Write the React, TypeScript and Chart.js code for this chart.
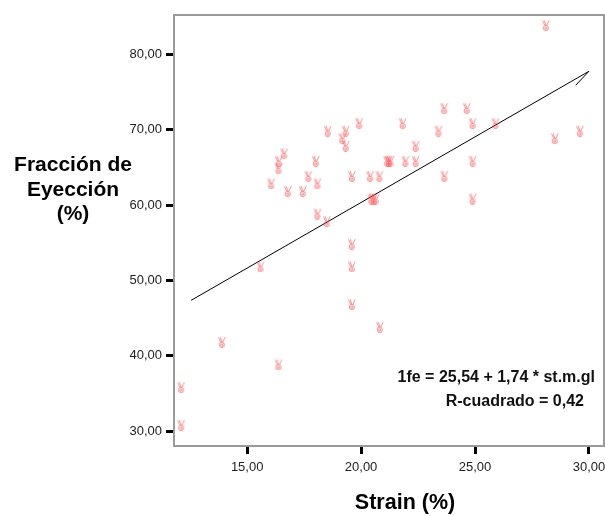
import React, { useEffect, useRef } from "react";
import { Chart, registerables } from "chart.js";

Chart.register(...registerables);

const strainX = [
  28.12, 23.65, 24.64, 19.92, 21.83, 24.9, 25.9, 18.54, 19.33, 23.4, 29.61, 19.18, 28.51,
  19.33, 22.4, 16.63, 16.39, 18.02, 21.15, 21.22, 21.3, 21.95, 22.4, 24.9, 16.38, 17.69,
  19.6, 20.4, 20.81, 23.66, 16.06, 18.09, 16.79, 17.45, 20.45, 20.55, 20.65, 24.9, 18.09,
  18.5, 19.6, 15.59, 19.6, 19.6, 20.83, 13.9, 16.38, 12.11, 12.11,
];
const fractionY = [
  84, 73, 73, 71, 71, 71, 71, 70, 70, 70, 70, 69, 69,
  68, 68, 67, 66, 66, 66, 66, 66, 66, 66, 66, 65, 64,
  64, 64, 64, 64, 63, 63, 62, 62, 61, 61, 61, 61, 59,
  58, 55, 52, 52, 47, 44, 42, 39, 36, 31,
];
const fitLineX = [12.54, 30.0, 29.42];
const fitLineY = [47.36, 77.74, 75.89];
const xTicks = [15, 20, 25, 30];
const yTicks = [30, 40, 50, 60, 70, 80];
const yTitleLines = ["Fracción de", "Eyección", "(%)"];
const xTitle = "Strain (%)";
const fitLabels = ["1fe = 25,54 + 1,74 * st.m.gl", "R-cuadrado = 0,42"];

const FONT = "Arial, 'Liberation Sans', sans-serif";
const PLOT_RIGHT = 604;

function makeMarker(): HTMLCanvasElement {
  const c = document.createElement("canvas");
  c.width = 10;
  c.height = 14;
  const g = c.getContext("2d")!;
  g.strokeStyle = "rgba(255,70,70,0.6)";
  g.lineWidth = 1;
  g.beginPath();
  g.moveTo(1.5, 3.5);
  g.lineTo(3.8, 8.5);
  g.moveTo(3.2, 3.2);
  g.lineTo(4.8, 8);
  g.moveTo(8.2, 3.2);
  g.lineTo(5.6, 8.6);
  g.stroke();
  g.beginPath();
  g.arc(4.8, 11, 2.6, 0, Math.PI * 2);
  g.stroke();
  g.beginPath();
  g.arc(4.8, 11.2, 1.1, 0, Math.PI * 2);
  g.stroke();
  return c;
}

const fmt = (v: number) => v.toFixed(2).replace(".", ",");

export default function App() {
  const ref = useRef<HTMLCanvasElement | null>(null);

  useEffect(() => {
    if (!ref.current) return;
    const marker = makeMarker();
    const points = strainX.map((x, i) => ({ x, y: fractionY[i] }));
    const fit = fitLineX.map((x, i) => ({ x, y: fitLineY[i] }));

    const textPlugin = {
      id: "spssText",
      afterLayout(chart: any) {
        const area = chart.chartArea;
        const xs = chart.scales.x;
        area.right = PLOT_RIGHT;
        area.width = area.right - area.left;
        xs.right = PLOT_RIGHT;
        xs.width = xs.right - xs.left;
        xs.configure();
      },
      beforeDatasetsDraw(chart: any) {
        const { ctx, chartArea } = chart;
        ctx.save();
        ctx.strokeStyle = "#9a9a9a";
        ctx.lineWidth = 2;
        ctx.strokeRect(chartArea.left, chartArea.top, chartArea.right - chartArea.left, chartArea.bottom - chartArea.top);
        ctx.restore();
      },
      afterDraw(chart: any) {
        const { ctx } = chart;
        ctx.save();
        ctx.fillStyle = "#000";
        ctx.textBaseline = "middle";
        ctx.textAlign = "center";
        ctx.font = `bold 21px ${FONT}`;
        const ys = [165, 190, 214];
        yTitleLines.forEach((t, i) => ctx.fillText(t, 73, ys[i]));
        ctx.font = `bold 21.5px ${FONT}`;
        ctx.fillText(xTitle, 405, 503);
        ctx.font = `bold 16px ${FONT}`;
        ctx.textAlign = "right";
        ctx.fillStyle = "#111";
        ctx.fillText(fitLabels[0], 595, 378);
        ctx.fillText(fitLabels[1], 584, 402);
        ctx.restore();
      },
    };

    const chart = new Chart(ref.current, {
      type: "scatter",
      data: {
        datasets: [
          {
            label: "fe",
            data: points,
            pointStyle: marker as any,
            pointRadius: 5,
            pointHoverRadius: 5,
          },
          {
            label: "fit",
            data: fit,
            showLine: true,
            borderColor: "#000",
            borderWidth: 1,
            pointRadius: 0,
            fill: false,
            tension: 0,
          } as any,
        ],
      },
      options: {
        animation: false,
        responsive: false,
        devicePixelRatio: 1,
        layout: { padding: { left: 0, top: 15, right: 1, bottom: 0 } },
        plugins: {
          legend: { display: false },
          tooltip: { enabled: false },
          title: { display: false },
        },
        scales: {
          x: {
            type: "linear",
            min: 11.79,
            max: 30.66,
            afterFit: (s: any) => {
              s.height = 70;
              s.paddingLeft = 0;
              s.paddingRight = 0;
            },
            afterBuildTicks: (s: any) => {
              s.ticks = xTicks.map((v) => ({ value: v }));
            },
            border: { display: false },
            grid: {
              display: true,
              drawOnChartArea: false,
              drawTicks: true,
              tickLength: 8,
              tickWidth: 3,
              tickColor: "#000",
            },
            ticks: {
              padding: 6,
              color: "#222",
              font: { family: FONT, size: 13 },
              maxRotation: 0,
              autoSkip: false,
              callback: (v: any) => fmt(Number(v)),
            },
          },
          y: {
            type: "linear",
            min: 28.05,
            max: 85.2,
            afterFit: (s: any) => {
              s.width = 174;
              s.paddingTop = 0;
              s.paddingBottom = 0;
            },
            afterBuildTicks: (s: any) => {
              s.ticks = yTicks.map((v) => ({ value: v }));
            },
            border: { display: false },
            grid: {
              display: true,
              drawOnChartArea: false,
              drawTicks: true,
              tickLength: 8,
              tickWidth: 3,
              tickColor: "#000",
            },
            ticks: {
              padding: 4,
              color: "#222",
              font: { family: FONT, size: 13 },
              autoSkip: false,
              callback: (v: any) => fmt(Number(v)),
            },
          },
        },
      } as any,
      plugins: [textPlugin],
    });
    return () => chart.destroy();
  }, []);

  return (
    <div style={{ position: "fixed", left: 0, top: 0, width: 605, height: 516, background: "#fff" }}>
      <canvas ref={ref} width={605} height={516} style={{ display: "block", width: 605, height: 516 }} />
    </div>
  );
}
